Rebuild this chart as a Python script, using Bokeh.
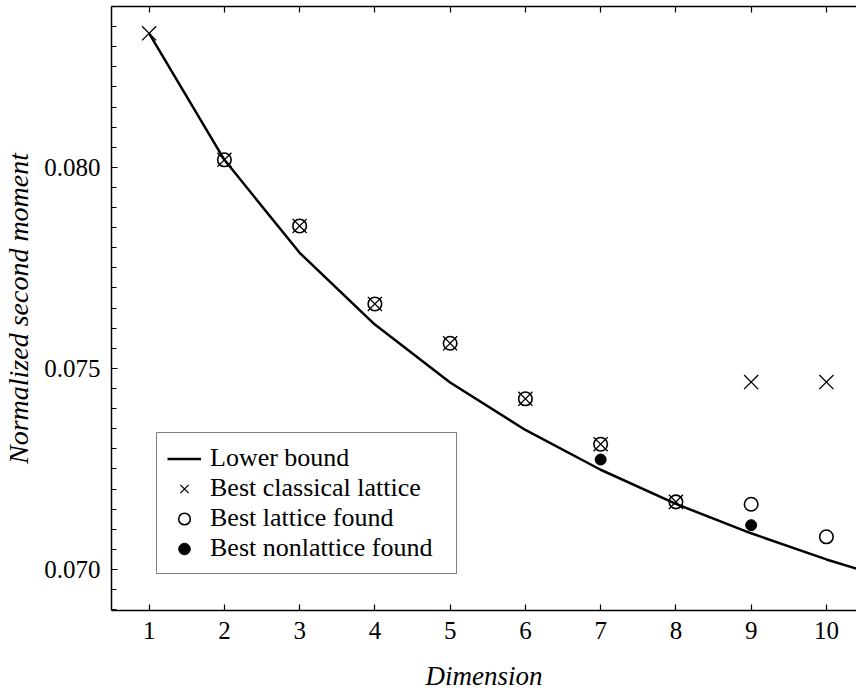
from bokeh.plotting import figure
from bokeh.models import (Range1d, LinearAxis, FixedTicker, Legend, LegendItem,
                          NumeralTickFormatter)
from bokeh.embed import file_html
from bokeh.resources import INLINE

# ---- data ----
bound_dims = [1, 2, 3, 4, 5, 6, 7, 8, 9, 10, 11]
lower_bound = [0.083333, 0.080188, 0.077875, 0.07609, 0.07465, 0.07347,
               0.07248, 0.07163, 0.07090, 0.07025, 0.06968]

classical_dims = [1, 2, 3, 4, 5, 6, 7, 8, 9, 10]
classical = [0.083333, 0.080188, 0.078543, 0.076603, 0.075625, 0.074244,
             0.073116, 0.071682, 0.07466, 0.07466]

lattice_dims = [2, 3, 4, 5, 6, 7, 8, 9, 10]
lattice = [0.080188, 0.078543, 0.076603, 0.075625, 0.074244, 0.073116,
           0.071682, 0.071623, 0.070813]

nonlattice_dims = [7, 9]
nonlattice = [0.072734, 0.071102]

x_ticks = [1, 2, 3, 4, 5, 6, 7, 8, 9, 10]
y_major = [0.070, 0.075, 0.080]
y_minor = [round(0.0690 + 0.0005 * i, 4) for i in range(31)]

FONT = "Liberation Serif"

p = figure(width=856, height=693, output_backend="svg", toolbar_location=None,
           x_range=Range1d(0.5, 10.40), y_range=Range1d(0.06898, 0.0840),
           min_border_left=111, min_border_right=0, min_border_top=6, min_border_bottom=0,
           x_axis_label="Dimension", y_axis_label="Normalized second moment")
p.grid.visible = False
p.outline_line_color = None
p.background_fill_color = "white"
p.border_fill_color = "white"

# axes
xa = p.xaxis[0]
xa.ticker = FixedTicker(ticks=x_ticks)
ya = p.yaxis[0]
ya.ticker = FixedTicker(ticks=y_major, minor_ticks=y_minor)
ya.formatter = NumeralTickFormatter(format="0.000")
for ax in (xa, ya):
    ax.axis_line_color = "black"
    ax.axis_line_width = 1.5
    ax.major_tick_in = 6
    ax.major_tick_out = 0
    ax.major_tick_line_width = 1.2
    ax.major_tick_line_color = "black"
    ax.minor_tick_in = 5
    ax.minor_tick_out = 0
    ax.minor_tick_line_color = "black"
    ax.minor_tick_line_width = 1.0
    ax.major_label_text_font = FONT
    ax.major_label_text_font_size = "25px"
    ax.major_label_text_color = "black"
    ax.axis_label_text_font = FONT
    ax.axis_label_text_font_style = "italic"
    ax.axis_label_text_color = "black"
xa.axis_label_text_font_size = "27px"
ya.axis_label_text_font_size = "28px"
xa.minor_tick_line_color = None
xa.major_label_standoff = 11
xa.axis_label_standoff = 19
ya.major_label_standoff = 11
ya.axis_label_standoff = 7

# top frame edge with inward ticks, no labels
top = LinearAxis(ticker=FixedTicker(ticks=x_ticks), axis_line_width=1.5,
                 axis_line_color="black", major_tick_in=6, major_tick_out=0,
                 major_tick_line_width=1.2, minor_tick_line_color=None,
                 major_label_text_font_size="1px", major_label_text_color=None,
                 major_label_text_alpha=0, major_label_standoff=0,
                 axis_label=None)
p.add_layout(top, "above")

# glyphs
r_line = p.line(bound_dims, lower_bound, line_color="black", line_width=2.5)
r_x = p.scatter(classical_dims, classical, marker="x", size=20,
                line_color="black", line_width=1.3)
r_o = p.scatter(lattice_dims, lattice, marker="circle", size=13.5,
                fill_color=None, line_color="black", line_width=1.6)
r_d = p.scatter(nonlattice_dims, nonlattice, marker="circle", size=11,
                fill_color="black", line_color="black")

legend = Legend(items=[
    LegendItem(label="Lower bound", renderers=[r_line]),
    LegendItem(label="Best classical lattice", renderers=[r_x]),
    LegendItem(label="Best lattice found", renderers=[r_o]),
    LegendItem(label="Best nonlattice found", renderers=[r_d]),
], location=(45, 36))
legend.border_line_color = "black"
legend.border_line_width = 1
legend.background_fill_color = "white"
legend.background_fill_alpha = 1
legend.label_text_font = FONT
legend.label_text_font_size = "26px"
legend.label_text_color = "black"
legend.padding = 10
legend.spacing = 0
legend.margin = 0
legend.glyph_width = 34
legend.glyph_height = 29
legend.label_height = 29
legend.label_width = 236
legend.label_standoff = 9
p.add_layout(legend)

open("out.html", "w").write(file_html(p, INLINE))
